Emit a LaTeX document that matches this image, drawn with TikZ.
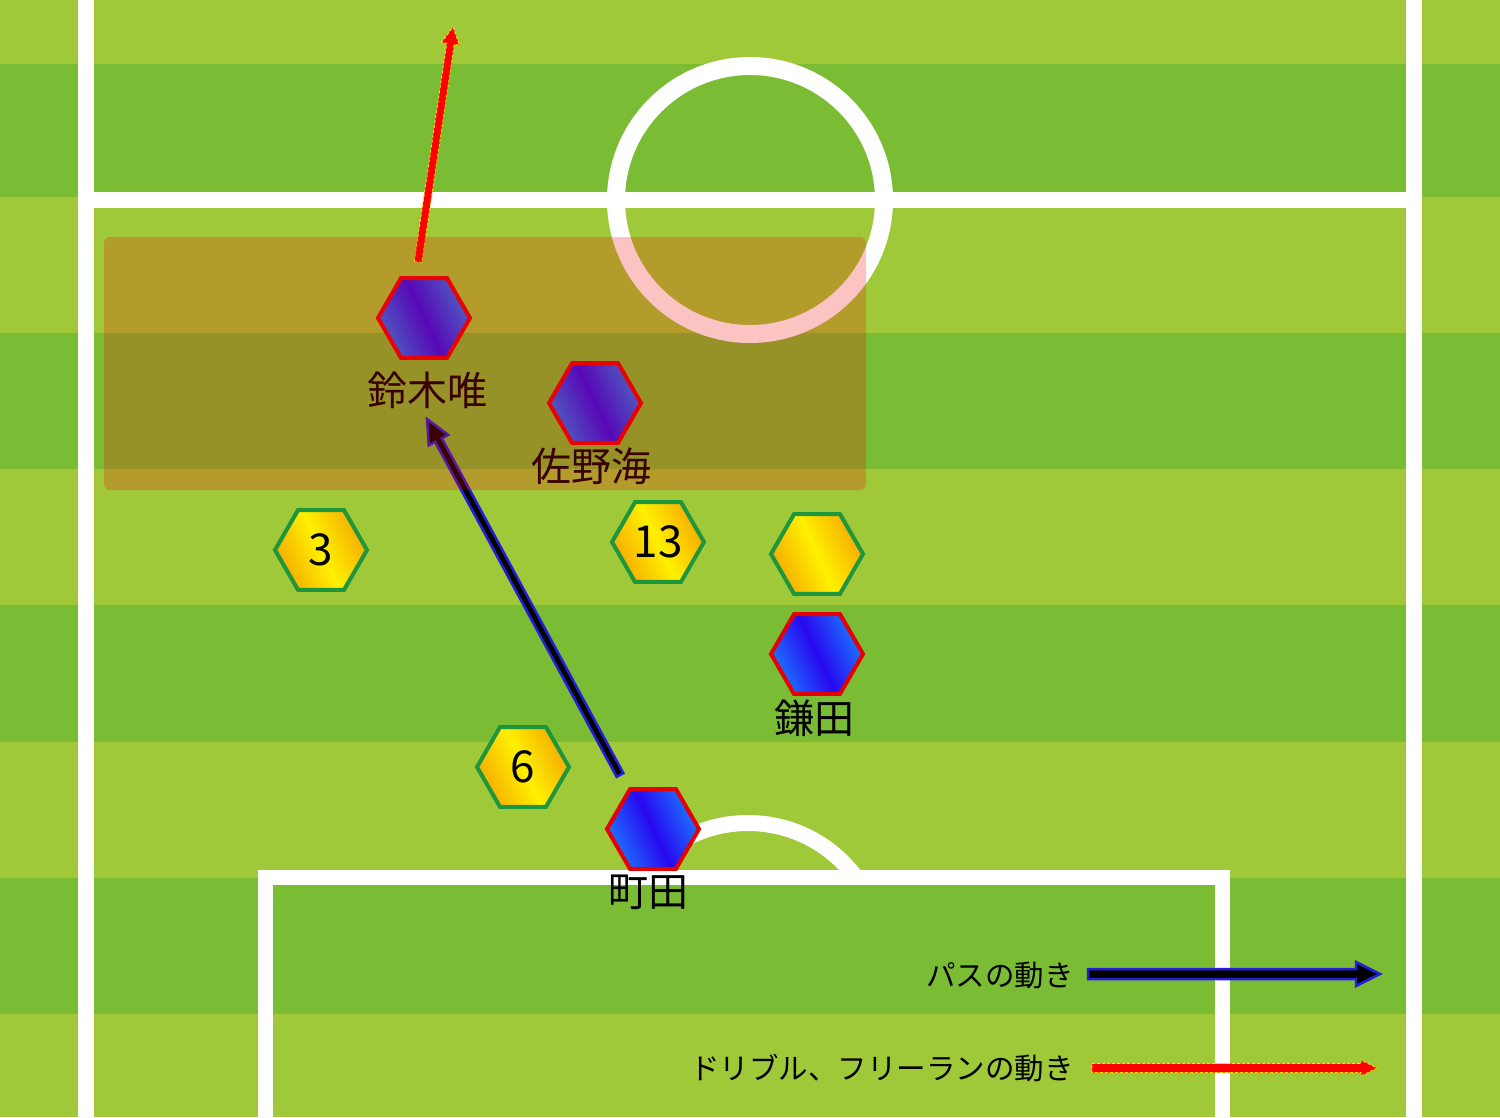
\documentclass[tikz,border=0pt]{standalone}
\usepackage{fontspec}
\setmainfont{Noto Sans CJK JP}
\usetikzlibrary{shapes.geometric,calc}
\definecolor{grlight}{RGB}{160,201,58}
\definecolor{grdark}{RGB}{122,189,52}
\definecolor{hexred}{RGB}{232,0,0}
\definecolor{hexgreen}{RGB}{30,150,60}
\definecolor{blA}{RGB}{28,118,255}
\definecolor{blB}{RGB}{40,8,240}
\definecolor{orA}{RGB}{245,170,0}
\definecolor{yeB}{RGB}{255,240,0}
\definecolor{ovl}{RGB}{240,10,0}
\definecolor{passblue}{RGB}{35,30,220}
\definecolor{arrred}{RGB}{255,0,0}
\definecolor{arryel}{RGB}{255,230,0}
\newcommand{\fatarrow}[7]{%
  \coordinate (#1b) at ($(#4)!#7!(#3)$);
  \path[#2] ($(#3)!#5!90:(#4)$) -- ($(#1b)!#5!90:(#4)$) -- ($(#1b)!#6!90:(#4)$) -- (#4)
    -- ($(#1b)!#6!-90:(#4)$) -- ($(#1b)!#5!-90:(#4)$) -- ($(#3)!#5!-90:(#4)$) -- cycle;
}
\begin{document}
\begin{tikzpicture}[x=1pt,y=-1pt,
  hexbase/.style={regular polygon, regular polygon sides=6, minimum size=92pt, inner sep=0pt, line width=4pt},
  bluehex/.style={hexbase, draw=hexred, left color=blA, right color=blA, middle color=blB, shading angle=115},
  yelhex/.style={hexbase, draw=hexgreen, left color=orA, right color=orA, middle color=yeB, shading angle=115, font=\fontsize{44}{50}\selectfont},
  namelbl/.style={font=\fontsize{40}{46}\selectfont, inner sep=0pt},
  legendlbl/.style={font=\fontsize{29.5}{34}\selectfont, inner sep=0pt, anchor=east},
  fieldline/.style={white, line width=16pt},
  passarrow/.style={fill=black, draw=passblue, line width=2.5pt, line join=miter},
  runarrow/.style={fill=arrred, draw=arryel, line width=0.8pt, dash pattern=on 3pt off 2pt},
]
\useasboundingbox (0,0) rectangle (1500,1117);
% stripes
\fill[grlight] (0,0) rectangle (1500,1117);
\foreach \a/\b in {64/197,333/469,605/742,878/1014}
  \fill[grdark] (0,\a) rectangle (1500,\b);
% field lines
\draw[fieldline] (86,0) -- (86,1117);
\draw[fieldline] (1413.5,0) -- (1413.5,1117);
\draw[fieldline] (86,200) -- (1413.5,200);
\draw[white, line width=18pt] (750,200) circle[radius=134];
\draw[white, line width=15pt] (265,1117) -- (265,877) -- (1222,877) -- (1222,1117);
\begin{scope}
  \clip (0,0) rectangle (1500,870);
  \draw[white, line width=16pt] (748,957) circle[radius=134];
\end{scope}
% movement arrows
\coordinate (ps) at (620,775);
\coordinate (pe) at (427,419);
\fatarrow{pa}{passarrow}{ps}{pe}{3.8pt}{11pt}{24pt}
\coordinate (rs) at (418,262);
\coordinate (re) at (453,27);
\fatarrow{ra}{runarrow}{rs}{re}{3.8pt}{9pt}{17pt}
% players inside the zone
\node[bluehex] (suzuki) at (424,318) {};
\node[namelbl] (suzukil) at (427,390) {鈴木唯};
\node[bluehex] (sano) at (595,403) {};
\node[namelbl] (sanol) at (591,466) {佐野海};
% zone overlay
\fill[ovl, opacity=0.24, rounded corners=6pt] (104,237) rectangle (866,490);
% other players
\node[yelhex] (h3) at (321,550) {3};
\node[yelhex] (h13) at (658,542) {13};
\node[yelhex] (hb) at (817,554) {};
\node[yelhex] (h6) at (523,767) {6};
\node[bluehex] (kamata) at (817,654) {};
\node[namelbl] (kamatal) at (814,718) {鎌田};
\node[bluehex] (machida) at (653,829) {};
\node[namelbl] (machidal) at (648,892) {町田};
% legend
\node[legendlbl] (passlbl) at (1074,975) {パスの動き};
\coordinate (lps) at (1088,974);
\coordinate (lpe) at (1380,974);
\fatarrow{lpa}{passarrow}{lps}{lpe}{5pt}{12pt}{24pt}
\node[legendlbl] (runlbl) at (1074,1068) {ドリブル、フリーランの動き};
\coordinate (lrs) at (1092,1068);
\coordinate (lre) at (1377,1068);
\fatarrow{lra}{runarrow}{lrs}{lre}{4.5pt}{8pt}{16pt}
\end{tikzpicture}
\end{document}
